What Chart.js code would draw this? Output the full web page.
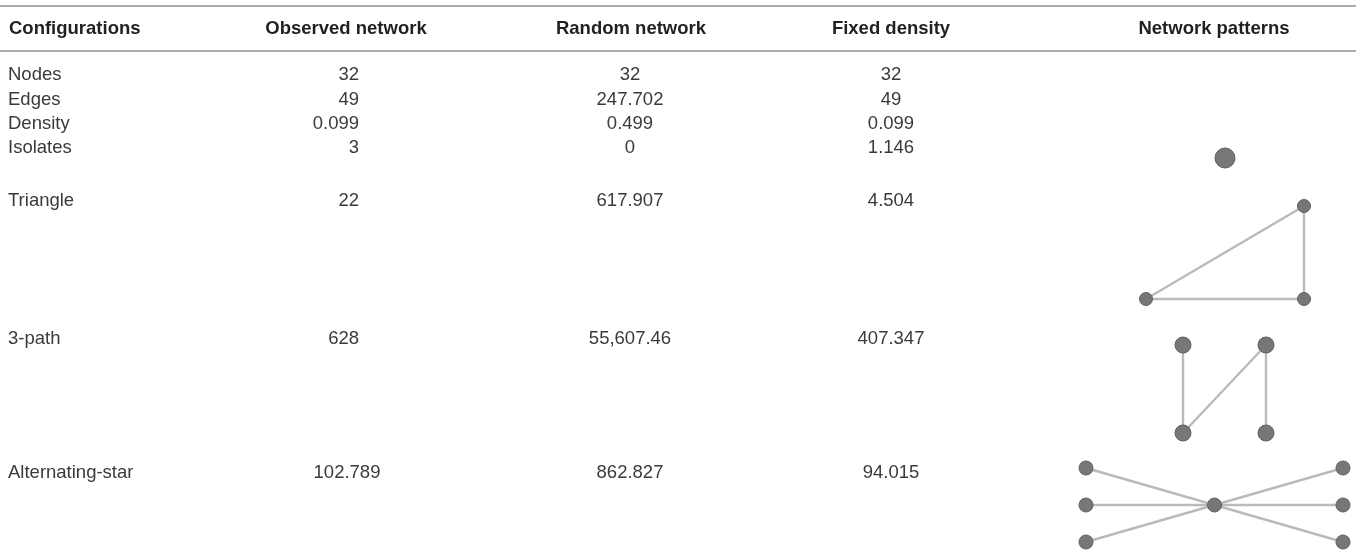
<!DOCTYPE html>
<html>
<head>
<meta charset="utf-8">
<script src="https://cdn.jsdelivr.net/npm/chart.js@4.4.0/dist/chart.umd.min.js"></script>
<style>
  html, body { margin: 0; padding: 0; background: #fff; }
  #wrap { width: 1356px; height: 552px; position: relative; }
</style>
</head>
<body>
<div id="wrap"><canvas id="chart"></canvas></div>
<script>
// ======= DATA =======
const headers = ["Configurations", "Observed network", "Random network", "Fixed density", "Network patterns"];
const configurations = ["Nodes", "Edges", "Density", "Isolates", "Triangle", "3-path", "Alternating-star"];
const observedNetwork = ["32", "49", "0.099", "3", "22", "628", "102.789"];
const randomNetwork = ["32", "247.702", "0.499", "0", "617.907", "55,607.46", "862.827"];
const fixedDensity = ["32", "49", "0.099", "1.146", "4.504", "407.347", "94.015"];

// pattern shapes on a unit grid: nodes + edges (node index pairs)
const isolateNodes = [[0, 0]];
const isolateEdges = [];
const triangleNodes = [[1, 0], [0, 1], [1, 1]];
const triangleEdges = [[0, 1], [1, 2], [2, 0]];
const pathNodes = [[0, 0], [1, 0], [0, 1], [1, 1]];
const pathEdges = [[0, 2], [2, 1], [1, 3]];
const starNodes = [[0.5, 0.5], [0, 0], [0, 0.5], [0, 1], [1, 0], [1, 0.5], [1, 1]];
const starEdges = [[0, 1], [0, 2], [0, 3], [0, 4], [0, 5], [0, 6]];

// ======= LAYOUT (scale units) =======
const colX = [8, 359, 630, 891, 1214];
const colAlign = ["left", "right", "center", "center", "center"];
const headerX = [9, 346, 631, 891, 1214];
const headerAlign = ["left", "center", "center", "center", "center"];
const headerY = 29;
const rowY = [75, 100, 124, 148, 201, 339, 473];
const ruleY = [6, 51];
// odd cell in the source table
const cellShift = { "1,6": { x: 347, align: "center" } };

// where each pattern sits: origin, box size, node radius
const patterns = [
  { nodes: isolateNodes, edges: isolateEdges, x: 1225, y: 158, w: 1, h: 1, r: 10 },
  { nodes: triangleNodes, edges: triangleEdges, x: 1146, y: 206, w: 158, h: 93, r: 6.5 },
  { nodes: pathNodes, edges: pathEdges, x: 1183, y: 345, w: 83, h: 88, r: 8 },
  { nodes: starNodes, edges: starEdges, x: 1086, y: 468, w: 257, h: 74, r: 7 }
];

const columns = [configurations, observedNetwork, randomNetwork, fixedDensity];

// ======= DATASETS =======
const datasets = [];
patterns.forEach(p => {
  const pts = p.nodes.map(n => ({ x: p.x + n[0] * p.w, y: p.y + n[1] * p.h }));
  p.edges.forEach(e => {
    datasets.push({
      data: [pts[e[0]], pts[e[1]]],
      showLine: true,
      borderColor: "#bababa",
      borderWidth: 2.4,
      pointRadius: 0,
      order: 1
    });
  });
  datasets.push({
    data: pts,
    showLine: false,
    pointRadius: p.r,
    backgroundColor: "#777777",
    borderColor: "#5f5f5f",
    borderWidth: 1,
    order: 0
  });
});

// ======= TABLE TEXT =======
const tablePlugin = {
  id: "tableText",
  beforeDatasetsDraw(chart) {
    const c = chart.ctx;
    const xs = chart.scales.x;
    const ys = chart.scales.y;
    c.save();

    c.strokeStyle = "#8e8e8e";
    c.lineWidth = 1.3;
    ruleY.forEach(v => {
      const py = ys.getPixelForValue(v);
      c.beginPath();
      c.moveTo(xs.getPixelForValue(0), py);
      c.lineTo(xs.getPixelForValue(1356), py);
      c.stroke();
    });

    c.textBaseline = "middle";
    c.font = "bold 18.5px 'Liberation Sans', Arial, sans-serif";
    c.fillStyle = "#231f20";
    headers.forEach((h, i) => {
      c.textAlign = headerAlign[i];
      c.fillText(h, xs.getPixelForValue(headerX[i]), ys.getPixelForValue(headerY));
    });

    c.font = "18.5px 'Liberation Sans', Arial, sans-serif";
    c.fillStyle = "#3a3a3a";
    columns.forEach((col, i) => {
      col.forEach((txt, j) => {
        const o = cellShift[i + "," + j];
        c.textAlign = o ? o.align : colAlign[i];
        c.fillText(txt, xs.getPixelForValue(o ? o.x : colX[i]), ys.getPixelForValue(rowY[j]));
      });
    });
    c.restore();
  }
};

const ctx = document.getElementById("chart");
new Chart(ctx, {
  type: "scatter",
  data: { datasets: datasets },
  options: {
    responsive: true,
    maintainAspectRatio: false,
    animation: false,
    layout: { padding: 0, autoPadding: false },
    plugins: { legend: { display: false }, tooltip: { enabled: false } },
    scales: {
      x: { type: "linear", min: 0, max: 1356, display: false },
      y: { type: "linear", min: 0, max: 552, reverse: true, display: false }
    }
  },
  plugins: [tablePlugin]
});
</script>
</body>
</html>
